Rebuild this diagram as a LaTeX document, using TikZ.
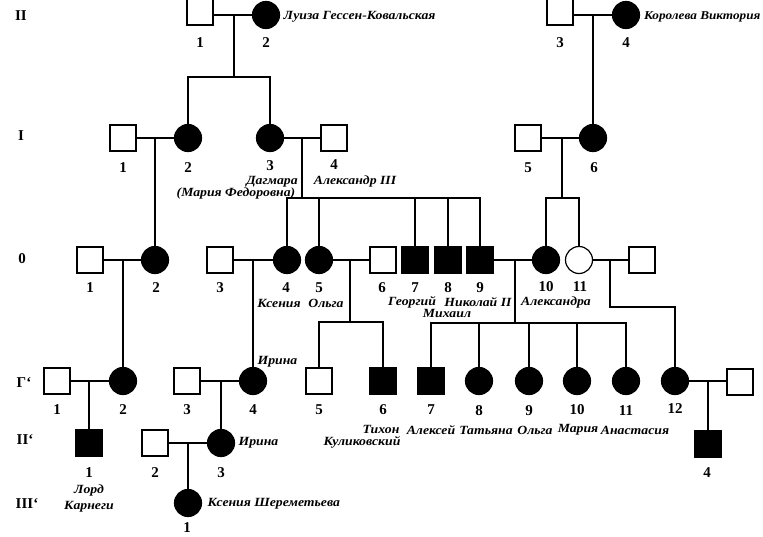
\documentclass[tikz,border=0pt]{standalone}
\usepackage{fontspec}
\setmainfont{Liberation Serif}
\newfontfamily\nmfont[FakeStretch=1.1]{Liberation Serif}
\begin{document}
\begin{tikzpicture}[x=1pt,y=-1pt,
  every path/.style={line width=1.2pt},
  male/.style={draw,rectangle,minimum size=26pt,inner sep=0pt,line width=1.2pt},
  female/.style={draw,circle,minimum size=27pt,inner sep=0pt,line width=1.2pt},
  aff/.style={fill=black},
  num/.style={font=\bfseries\fontsize{15}{15}\selectfont,inner sep=0pt},
  nm/.style={font=\nmfont\bfseries\itshape\fontsize{12.5}{12.5}\selectfont,inner sep=0pt},
  gen/.style={font=\bfseries\fontsize{15}{15}\selectfont,inner sep=0pt}]
\useasboundingbox (0,0) rectangle (763,537);

% generation labels
\node[gen] (gII) at (21,16) {II};
\node[gen] (gI) at (21,136) {I};
\node[gen] (g0) at (22,259) {0};
\node[gen] (gG) at (24,383) {Г`};
\node[gen] (gIIp) at (25,440) {II`};
\node[gen] (gIIIp) at (27,504) {III`};

% ---------- generation II ----------
\node[male] (a1) at (200,12) {};
\node[female,aff] (a2) at (266,15) {};
\node[male] (a3) at (560,12) {};
\node[female,aff] (a4) at (626,15) {};
\node[num] (na1) at (200,43) {1};
\node[num] (na2) at (266,43) {2};
\node[num] (na3) at (560,43) {3};
\node[num] (na4) at (626,43) {4};
\node[nm,anchor=west] (ta2) at (283,17) {Луиза Гессен-Ковальская};
\node[nm,anchor=east,font=\nmfont\bfseries\itshape\fontsize{12}{12}\selectfont] (ta4) at (761,17) {Королева Виктория};

% ---------- generation I ----------
\node[male] (b1) at (123,138) {};
\node[female,aff] (b2) at (188,138) {};
\node[female,aff] (b3) at (270,138) {};
\node[male] (b4) at (334,138) {};
\node[male] (b5) at (528,138) {};
\node[female,aff] (b6) at (593,138) {};
\node[num] (nb1) at (123,168) {1};
\node[num] (nb2) at (188,168) {2};
\node[num] (nb3) at (270,166) {3};
\node[num] (nb4) at (334,165) {4};
\node[num] (nb5) at (528,168) {5};
\node[num] (nb6) at (594,168) {6};
\node[nm] (tb3) at (272,182) {Дагмара};
\node[nm] (tb3b) at (236,193) {(Мария Федоровна)};
\node[nm] (tb4) at (355,181) {Александр III};

% ---------- generation 0 ----------
\node[male] (c1) at (90,260) {};
\node[female,aff] (c2) at (155,260) {};
\node[male] (c3) at (220,260) {};
\node[female,aff] (c4) at (287,260) {};
\node[female,aff] (c5) at (319,260) {};
\node[male] (c6) at (383,260) {};
\node[male,aff] (c7) at (415,260) {};
\node[male,aff] (c8) at (448,260) {};
\node[male,aff] (c9) at (480,260) {};
\node[female,aff] (c10) at (546,260) {};
\node[female] (c11) at (579,260) {};
\node[male] (c12) at (642,260) {};
\node[num] (nc1) at (90,288) {1};
\node[num] (nc2) at (156,288) {2};
\node[num] (nc3) at (220,288) {3};
\node[num] (nc4) at (286,288) {4};
\node[num] (nc5) at (319,288) {5};
\node[num] (nc6) at (382,288) {6};
\node[num] (nc7) at (415,288) {7};
\node[num] (nc8) at (448,288) {8};
\node[num] (nc9) at (480,288) {9};
\node[num] (nc10) at (546,287) {10};
\node[num] (nc11) at (580,287) {11};
\node[nm] (tc4) at (279,303) {Ксения};
\node[nm] (tc5) at (326,303) {Ольга};
\node[nm] (tc7) at (412,302) {Георгий};
\node[nm] (tc9) at (478,302) {Николай II};
\node[nm] (tc8) at (447,313) {Михаил};
\node[nm] (tc10) at (556,302) {Александра};

% ---------- generation Г ----------
\node[male] (d1) at (57,381) {};
\node[female,aff] (d2) at (123,381) {};
\node[male] (d3) at (187,381) {};
\node[female,aff] (d4) at (253,381) {};
\node[male] (d5) at (319,381) {};
\node[male,aff] (d6) at (383,381) {};
\node[male,aff] (d7) at (431,381) {};
\node[female,aff] (d8) at (479,381) {};
\node[female,aff] (d9) at (529,381) {};
\node[female,aff] (d10) at (577,381) {};
\node[female,aff] (d11) at (626,381) {};
\node[female,aff] (d12) at (675,381) {};
\node[male] (d13) at (740,382) {};
\node[num] (nd1) at (57,410) {1};
\node[num] (nd2) at (123,410) {2};
\node[num] (nd3) at (187,410) {3};
\node[num] (nd4) at (253,410) {4};
\node[num] (nd5) at (319,410) {5};
\node[num] (nd6) at (383,410) {6};
\node[num] (nd7) at (431,410) {7};
\node[num] (nd8) at (479,411) {8};
\node[num] (nd9) at (529,411) {9};
\node[num] (nd10) at (577,410) {10};
\node[num] (nd11) at (626,411) {11};
\node[num] (nd12) at (675,409) {12};
\node[nm,anchor=west] (td4) at (257,362) {Ирина};
\node[nm] (td6) at (381,429) {Тихон};
\node[nm] (td6b) at (362,442) {Куликовский};
\node[nm] (td7) at (431,430) {Алексей};
\node[nm] (td8) at (486,430) {Татьяна};
\node[nm] (td9) at (535,430) {Ольга};
\node[nm] (td10) at (578,430) {Мария};
\node[nm] (td11) at (635,430) {Анастасия};

% ---------- generation II' ----------
\node[male,aff] (e1) at (89,443) {};
\node[male] (e2) at (155,443) {};
\node[female,aff] (e3) at (221,443) {};
\node[male,aff] (e4) at (708,444) {};
\node[num] (ne1) at (89,473) {1};
\node[num] (ne2) at (155,473) {2};
\node[num] (ne3) at (221,473) {3};
\node[num] (ne4) at (707,473) {4};
\node[nm] (te1) at (89,490) {Лорд};
\node[nm] (te1b) at (89,507) {Карнеги};
\node[nm,anchor=west] (te3) at (238,443) {Ирина};

% ---------- generation III' ----------
\node[female,aff] (f1) at (188,503) {};
\node[num] (nf1) at (187,528) {1};
\node[nm,anchor=west] (tf1) at (207,504) {Ксения Шереметьева};

% ---------- junctions ----------
\coordinate (ja) at (234,15);
\coordinate (sa) at (234,77);
\coordinate (jb) at (593,15);
\coordinate (jI1) at (155,138);
\coordinate (jI2) at (302,138);
\coordinate (sI2) at (302,198);
\coordinate (jI3) at (562,138);
\coordinate (sI3) at (562,198);
\coordinate (j01) at (123,260);
\coordinate (j03) at (253,260);
\coordinate (j05) at (350,260);
\coordinate (s05) at (350,322);
\coordinate (j09) at (515,260);
\coordinate (s09) at (515,323);
\coordinate (j11) at (610,260);
\coordinate (s11) at (610,307);
\coordinate (jd1) at (89,381);
\coordinate (jd3) at (221,381);
\coordinate (jd12) at (708,381);
\coordinate (je2) at (188,443);

% ---------- connectors ----------
% generation II
\draw (a1.east |- ja) -- (a2.west);
\draw (ja) -- (sa);
\draw (b2.north) -- (b2.north |- sa) -- (b3.north |- sa) -- (b3.north);
\draw (a3.east |- jb) -- (a4.west);
\draw (jb) -- (b6.north);
% generation I
\draw (b1.east) -- (b2.west);
\draw (jI1) -- (c2.north);
\draw (b3.east) -- (b4.west);
\draw (jI2) -- (sI2);
\draw (c4.north) -- (c4.north |- sI2) -- (c9.north |- sI2) -- (c9.north);
\draw (c5.north) -- (c5.north |- sI2);
\draw (c7.north) -- (c7.north |- sI2);
\draw (c8.north) -- (c8.north |- sI2);
\draw (b5.east) -- (b6.west);
\draw (jI3) -- (sI3);
\draw (c10.north) -- (c10.north |- sI3) -- (c11.north |- sI3) -- (c11.north);
% generation 0
\draw (c1.east) -- (c2.west);
\draw (j01) -- (d2.north);
\draw (c3.east) -- (c4.west);
\draw (j03) -- (d4.north);
\draw (c5.east) -- (c6.west);
\draw (j05) -- (s05);
\draw (d5.north) -- (d5.north |- s05) -- (d6.north |- s05) -- (d6.north);
\draw (c9.east) -- (c10.west);
\draw (j09) -- (s09);
\draw (d7.north) -- (d7.north |- s09) -- (d11.north |- s09) -- (d11.north);
\draw (d8.north) -- (d8.north |- s09);
\draw (d9.north) -- (d9.north |- s09);
\draw (d10.north) -- (d10.north |- s09);
\draw (c11.east) -- (c12.west);
\draw (j11) -- (s11) -- (d12.north |- s11) -- (d12.north);
% generation Г
\draw (d1.east) -- (d2.west);
\draw (jd1) -- (e1.north);
\draw (d3.east) -- (d4.west);
\draw (jd3) -- (e3.north);
\draw (d12.east) -- (d13.west |- d12.east);
\draw (jd12) -- (e4.north);
% generation II'
\draw (e2.east) -- (e3.west);
\draw (je2) -- (f1.north);
\end{tikzpicture}
\end{document}
